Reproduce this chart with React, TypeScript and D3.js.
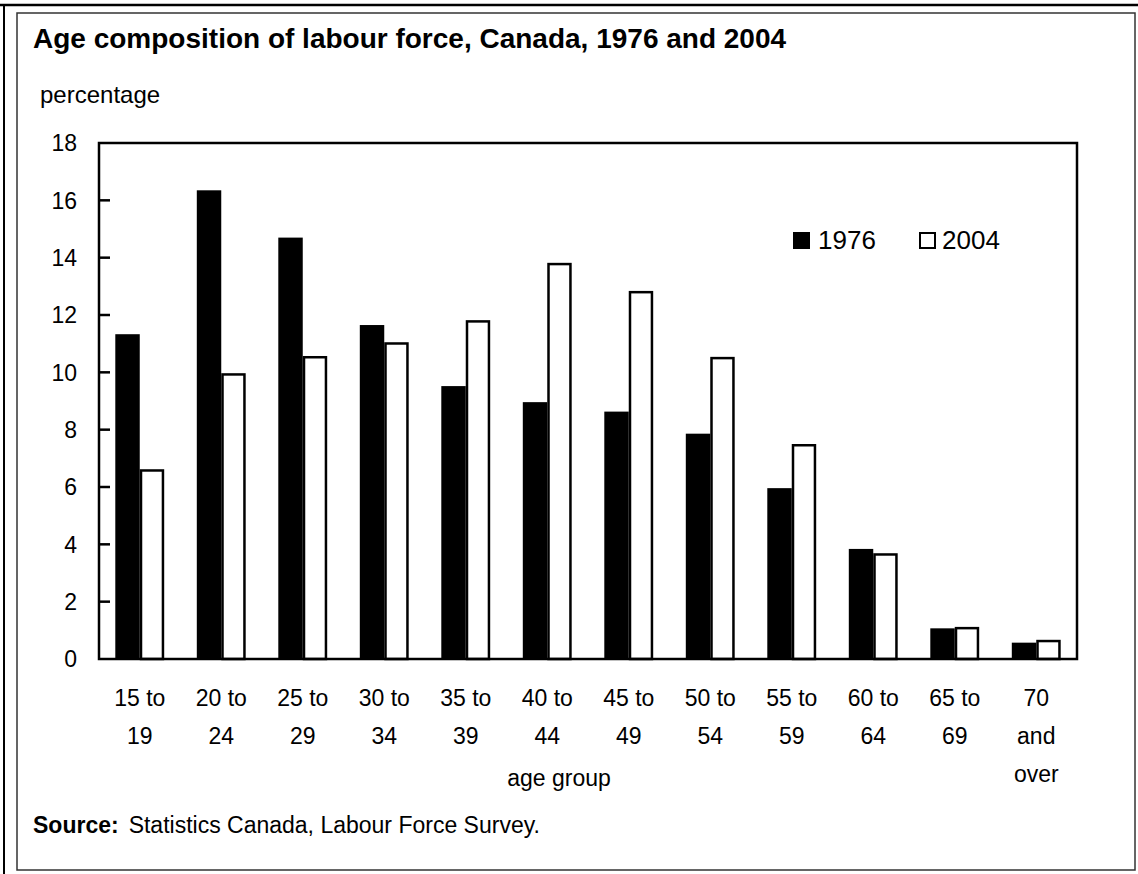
import React from "react";
import * as d3 from "d3";

const categories = ["15 to 19", "20 to 24", "25 to 29", "30 to 34", "35 to 39", "40 to 44", "45 to 49", "50 to 54", "55 to 59", "60 to 64", "65 to 69", "70 and over"];
const categoryLines = [["15 to", "19"], ["20 to", "24"], ["25 to", "29"], ["30 to", "34"], ["35 to", "39"], ["40 to", "44"], ["45 to", "49"], ["50 to", "54"], ["55 to", "59"], ["60 to", "64"], ["65 to", "69"], ["70", "and", "over"]];
const values1976 = [11.33, 16.35, 14.7, 11.65, 9.52, 8.96, 8.63, 7.86, 5.96, 3.84, 1.07, 0.57];
const values2004 = [6.62, 9.97, 10.57, 11.05, 11.82, 13.82, 12.84, 10.54, 7.5, 3.69, 1.12, 0.67];
const seriesNames = ["1976", "2004"];
const yTicks = [0, 2, 4, 6, 8, 10, 12, 14, 16, 18];

const W = 1138;
const H = 874;
const plot = { left: 99, right: 1077, top: 143, bottom: 659 };
const FONT = "'Liberation Sans', Arial, sans-serif";

export default function App() {
  const x = d3.scaleBand<string>().domain(categories).range([plot.left, plot.right]).paddingInner(0.4).paddingOuter(0.2);
  const xs = d3.scaleBand<string>().domain(seriesNames).range([0, x.bandwidth()]).padding(0);
  const y = d3.scaleLinear().domain([0, 18]).range([plot.bottom, plot.top]);

  return (
    <svg width={W} height={H} style={{ position: "absolute", left: 0, top: 0, background: "#fff" }} fontFamily={FONT}>
      <rect x={0} y={0} width={W} height={H} fill="#fff" />
      {/* outer cropped border */}
      <line x1={0} x2={W} y1={5} y2={5} stroke="#000" strokeWidth={2.5} />
      <line x1={4} x2={4} y1={5} y2={H} stroke="#000" strokeWidth={2} />
      {/* inner frame */}
      <rect x={17} y={13} width={1118} height={857} fill="none" stroke="#333" strokeWidth={1.5} />

      <text x={33} y={48} fontSize={28} fontWeight="bold" fill="#000">Age composition of labour force, Canada, 1976 and 2004</text>
      <text x={40} y={103} fontSize={24} fill="#000">percentage</text>

      {/* bars */}
      {categories.map((c, i) => (
        <g key={c}>
          <rect x={(x(c) as number) + (xs("1976") as number)} y={y(values1976[i])} width={xs.bandwidth()} height={y(0) - y(values1976[i])} fill="#000" />
          <rect x={(x(c) as number) + (xs("2004") as number) + 1.25} y={y(values2004[i]) + 1.25} width={xs.bandwidth() - 2.5} height={y(0) - y(values2004[i]) - 1.25} fill="#fff" stroke="#000" strokeWidth={2.5} />
        </g>
      ))}

      {/* plot frame */}
      <rect x={plot.left} y={plot.top} width={plot.right - plot.left} height={plot.bottom - plot.top} fill="none" stroke="#000" strokeWidth={2.5} />

      {/* y ticks */}
      {yTicks.map((t) => (
        <g key={t}>
          {t > 0 && t < 18 && <line x1={plot.left} x2={plot.left + 11} y1={y(t)} y2={y(t)} stroke="#000" strokeWidth={2.5} />}
          <text x={77} y={y(t)} dy="0.36em" textAnchor="end" fontSize={23} fill="#000">{t}</text>
        </g>
      ))}

      {/* x labels */}
      {categories.map((c, i) => (
        <text key={c} textAnchor="middle" fontSize={23} fill="#000">
          {categoryLines[i].map((ln, j) => (
            <tspan key={j} x={(x(c) as number) + x.bandwidth() / 2} y={706 + j * 38}>{ln}</tspan>
          ))}
        </text>
      ))}
      <text x={559} y={786} textAnchor="middle" fontSize={23} fill="#000">age group</text>

      {/* legend */}
      <rect x={793} y={232} width={17} height={17} fill="#000" />
      <text x={818} y={249} fontSize={26} fill="#000">{seriesNames[0]}</text>
      <rect x={920} y={233} width={15} height={15} fill="#fff" stroke="#000" strokeWidth={2} />
      <text x={942} y={249} fontSize={26} fill="#000">{seriesNames[1]}</text>

      <text x={33} y={833} fontSize={23} fill="#000">
        <tspan fontWeight="bold">Source:</tspan>
        <tspan dx={10}>Statistics Canada, Labour Force Survey.</tspan>
      </text>
    </svg>
  );
}
